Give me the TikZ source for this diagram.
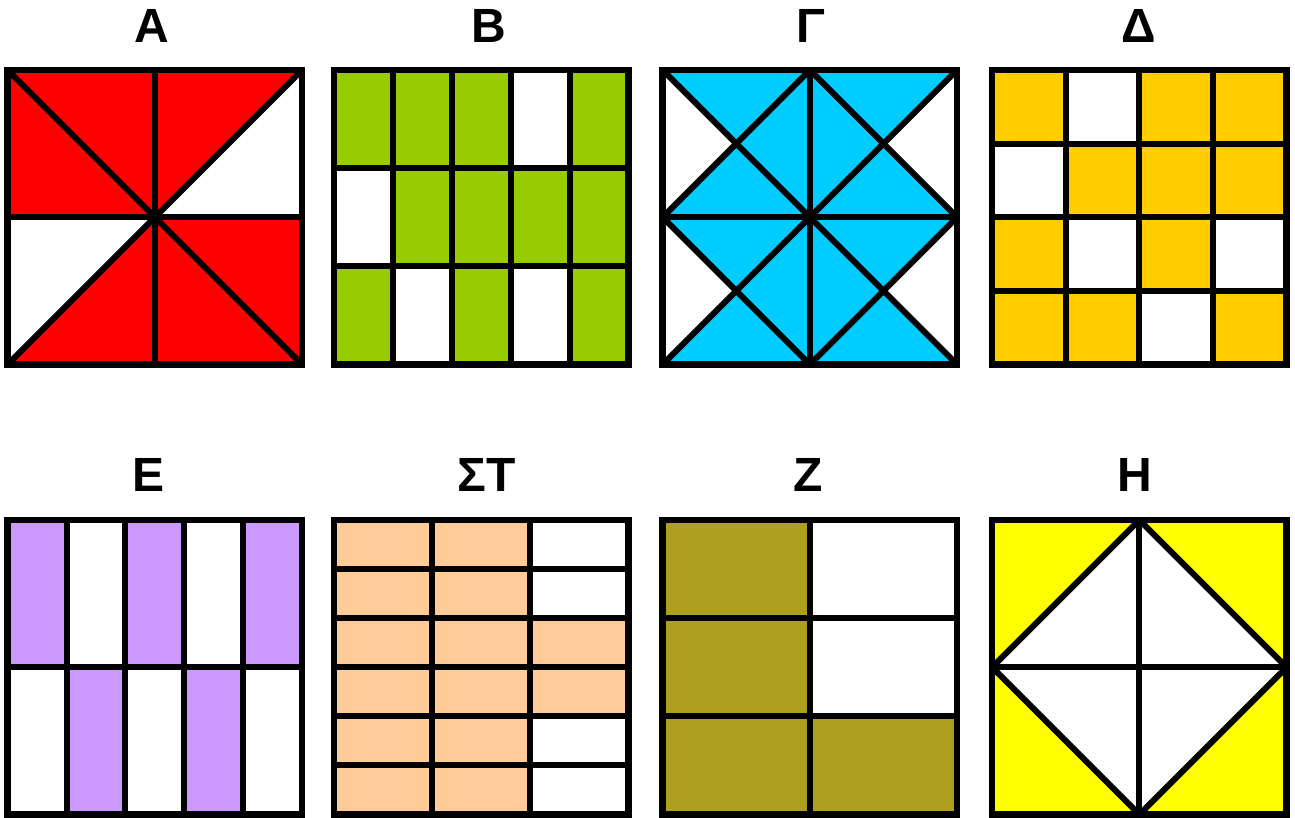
\documentclass[tikz,border=0pt]{standalone}
\usepackage{fontspec}
\setmainfont{Liberation Sans}
\definecolor{cRed}{HTML}{FF0000}
\definecolor{cGreen}{HTML}{99CC00}
\definecolor{cBlue}{HTML}{00CCFF}
\definecolor{cGold}{HTML}{FFCC00}
\definecolor{cPurple}{HTML}{CC99FF}
\definecolor{cPeach}{HTML}{FFCC99}
\definecolor{cOlive}{HTML}{AF9F20}
\definecolor{cYellow}{HTML}{FFFF00}
\tikzset{
  outerbox/.style={line width=6.5pt, draw=black, line join=miter},
  innerline/.style={line width=6pt, draw=black},
  lbl/.style={font=\bfseries\fontsize{48}{48}\selectfont, anchor=base, inner sep=0pt, text=black},
}
\def\S{294.5}
\begin{document}
\begin{tikzpicture}[x=1pt,y=-1pt]
\useasboundingbox (0,0) rectangle (1295,818);

% ---------- labels ----------
\node[lbl] (lA) at (152,42.7) {Α};
\node[lbl] (lB) at (489,42.7) {Β};
\node[lbl] (lG) at (811,42.7) {Γ};
\node[lbl] (lD) at (1138.5,42.7) {Δ};
\node[lbl] (lE) at (148.5,491) {Ε};
\node[lbl] (lST) at (486.5,491) {ΣΤ};
\node[lbl] (lZ) at (808,491) {Ζ};
\node[lbl] (lH) at (1135,491) {Η};

% ---------- A ----------
\begin{scope}[shift={(7.6,70)}]
  \fill[cRed] (0,0) rectangle (\S,\S);
  \fill[white] (\S,0) -- (\S/2,\S/2) -- (\S,\S/2) -- cycle;
  \fill[white] (0,\S/2) -- (\S/2,\S/2) -- (0,\S) -- cycle;
  \begin{scope}
    \clip (0,0) rectangle (\S,\S);
    \draw[innerline] (0,0) -- (\S,\S);
    \draw[innerline] (\S,0) -- (0,\S);
    \draw[innerline] (\S/2,0) -- (\S/2,\S);
    \draw[innerline] (0,\S/2) -- (\S,\S/2);
  \end{scope}
  \draw[outerbox] (0,0) rectangle (\S,\S);
\end{scope}

% ---------- B ----------
\begin{scope}[shift={(334,70)}]
  \foreach \c/\r in {0/0,1/0,2/0,4/0,1/1,2/1,3/1,4/1,0/2,2/2,4/2}
    \fill[cGreen] (\c*\S/5,\r*\S/3) rectangle ++(\S/5,\S/3);
  \foreach \i in {1,2,3,4}
    \draw[innerline] (\i*\S/5,0) -- (\i*\S/5,\S);
  \foreach \j in {1,2}
    \draw[innerline] (0,\j*\S/3) -- (\S,\j*\S/3);
  \draw[outerbox] (0,0) rectangle (\S,\S);
\end{scope}

% ---------- Gamma ----------
\begin{scope}[shift={(662.5,70)}]
  \fill[cBlue] (0,0) rectangle (\S,\S);
  \fill[white] (0,0) -- (\S/4,\S/4) -- (0,\S/2) -- cycle;
  \fill[white] (0,\S/2) -- (\S/4,3*\S/4) -- (0,\S) -- cycle;
  \fill[white] (\S,0) -- (3*\S/4,\S/4) -- (\S,\S/2) -- cycle;
  \fill[white] (\S,\S/2) -- (3*\S/4,3*\S/4) -- (\S,\S) -- cycle;
  \begin{scope}
    \clip (0,0) rectangle (\S,\S);
    \draw[innerline] (0,0) -- (\S,\S);
    \draw[innerline] (\S,0) -- (0,\S);
    \draw[innerline] (\S/2,0) -- (\S/2,\S);
    \draw[innerline] (0,\S/2) -- (\S,\S/2);
    \draw[innerline, line join=miter] (\S/2,0) -- (0,\S/2) -- (\S/2,\S) -- (\S,\S/2) -- cycle;
  \end{scope}
  \draw[outerbox] (0,0) rectangle (\S,\S);
\end{scope}

% ---------- Delta ----------
\begin{scope}[shift={(992,70)}]
  \foreach \c/\r in {0/0,2/0,3/0,1/1,2/1,3/1,0/2,2/2,0/3,1/3,3/3}
    \fill[cGold] (\c*\S/4,\r*\S/4) rectangle ++(\S/4,\S/4);
  \foreach \i in {1,2,3} {
    \draw[innerline] (\i*\S/4,0) -- (\i*\S/4,\S);
    \draw[innerline] (0,\i*\S/4) -- (\S,\i*\S/4);
  }
  \draw[outerbox] (0,0) rectangle (\S,\S);
\end{scope}

% ---------- E ----------
\begin{scope}[shift={(7.6,520)}]
  \foreach \c/\r in {0/0,2/0,4/0,1/1,3/1}
    \fill[cPurple] (\c*\S/5,\r*\S/2) rectangle ++(\S/5,\S/2);
  \foreach \i in {1,2,3,4}
    \draw[innerline] (\i*\S/5,0) -- (\i*\S/5,\S);
  \draw[innerline] (0,\S/2) -- (\S,\S/2);
  \draw[outerbox] (0,0) rectangle (\S,\S);
\end{scope}

% ---------- Sigma Tau ----------
\begin{scope}[shift={(334,520)}]
  \foreach \c/\r in {0/0,1/0,0/1,1/1,0/2,1/2,2/2,0/3,1/3,2/3,0/4,1/4,0/5,1/5}
    \fill[cPeach] (\c*\S/3,\r*\S/6) rectangle ++(\S/3,\S/6);
  \foreach \i in {1,2}
    \draw[innerline] (\i*\S/3,0) -- (\i*\S/3,\S);
  \foreach \j in {1,2,3,4,5}
    \draw[innerline] (0,\j*\S/6) -- (\S,\j*\S/6);
  \draw[outerbox] (0,0) rectangle (\S,\S);
\end{scope}

% ---------- Z ----------
\begin{scope}[shift={(662.5,520)}]
  \foreach \c/\r in {0/0,0/1,0/2,1/2}
    \fill[cOlive] (\c*\S/2,\r*\S/3) rectangle ++(\S/2,\S/3);
  \draw[innerline] (\S/2,0) -- (\S/2,\S);
  \foreach \j in {1,2}
    \draw[innerline] (0,\j*\S/3) -- (\S,\j*\S/3);
  \draw[outerbox] (0,0) rectangle (\S,\S);
\end{scope}

% ---------- H ----------
\begin{scope}[shift={(992,520)}]
  \fill[cYellow] (0,0) rectangle (\S,\S);
  \fill[white] (\S/2,0) -- (0,\S/2) -- (\S/2,\S) -- (\S,\S/2) -- cycle;
  \begin{scope}
    \clip (0,0) rectangle (\S,\S);
    \draw[innerline] (\S/2,0) -- (\S/2,\S);
    \draw[innerline] (0,\S/2) -- (\S,\S/2);
    \draw[innerline, line join=miter] (\S/2,0) -- (0,\S/2) -- (\S/2,\S) -- (\S,\S/2) -- cycle;
  \end{scope}
  \draw[outerbox] (0,0) rectangle (\S,\S);
\end{scope}
\end{tikzpicture}
\end{document}
